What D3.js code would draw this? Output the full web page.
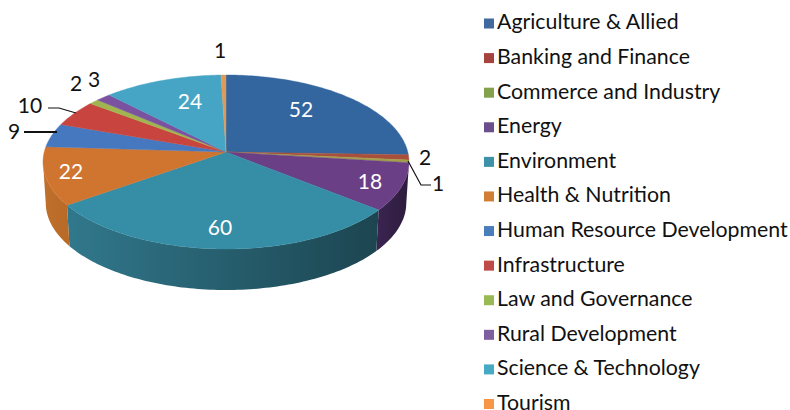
<!DOCTYPE html>
<html>
<head>
<meta charset="utf-8">
<script src="https://cdn.jsdelivr.net/npm/d3@7"></script>
<style>
  html, body { margin: 0; padding: 0; background: #fff; }
  text { font-family: Lato, "Open Sans", sans-serif; }
</style>
</head>
<body>
<svg id="chart" width="790" height="410"></svg>
<script>
var categories = ['Agriculture & Allied', 'Banking and Finance', 'Commerce and Industry', 'Energy',
  'Environment', 'Health & Nutrition', 'Human Resource Development', 'Infrastructure',
  'Law and Governance', 'Rural Development', 'Science & Technology', 'Tourism'];
var values = [52, 2, 1, 18, 60, 22, 9, 10, 2, 3, 24, 1];
var topColors = ['#33659e', '#a8503c', '#a3a04c', '#6a3f86', '#358da6', '#d0752f',
  '#4678bf', '#c8443f', '#a0b54f', '#7a529f', '#46a5c4', '#e09a58'];
var legendColors = ['#41689f', '#a5433f', '#83a04a', '#6a4f8c', '#3d91a8', '#d07d36',
  '#4a7ebb', '#be4b48', '#98b954', '#7d5fa0', '#46aac5', '#f79646'];
var wallFrom = ['#33659e', '#a8503c', '#a3a04c', '#2d1c3c', '#1c4550', '#b86a26',
  '#4678bf', '#c8443f', '#a0b54f', '#7a529f', '#46a5c4', '#e09a58'];
var wallTo = ['#33659e', '#a8503c', '#a3a04c', '#3a2450', '#31788c', '#c0702c',
  '#4678bf', '#c8443f', '#a0b54f', '#7a529f', '#46a5c4', '#e09a58'];

var svg = d3.select('#chart');
var defs = svg.append('defs');

// pie sits on a tilted plane, the apex is above the centre of the ellipse
var cx = 226, cy = 162, rx = 183, ry = 87, tilt = -0.115, depth = 41, bottomScale = 0.985;
var frontStart = 96.6 * Math.PI / 180, frontEnd = 263.4 * Math.PI / 180;

function project(angle, r) {
  var u = Math.sin(angle) * r, v = -Math.cos(angle) * r;
  var w = 1 + tilt * v;
  return [cx + rx * u * Math.sqrt(1 - tilt * tilt) / w, cy + ry * (v + tilt) / w];
}

function arcPoints(a0, a1, r) {
  var n = Math.max(2, Math.ceil((a1 - a0) / 0.02));
  return d3.range(n + 1).map(function (i) {
    return project(a0 + (a1 - a0) * i / n, r);
  });
}

var line = d3.line();
var slices = d3.pie().sort(null).value(function (d) { return d; })(values);

// ======================= side wall =======================
slices.forEach(function (s, i) {
  var a0 = Math.max(s.startAngle, frontStart), a1 = Math.min(s.endAngle, frontEnd);
  if (a1 <= a0) return;
  var upper = arcPoints(a0, a1, 1);
  var lower = upper.map(function (p) {
    return [cx + (p[0] - cx) * bottomScale, p[1] + depth];
  }).reverse();
  var id = 'wall' + i;
  var grad = defs.append('linearGradient').attr('id', id)
    .attr('gradientUnits', 'userSpaceOnUse')
    .attr('x1', upper[0][0]).attr('x2', upper[upper.length - 1][0])
    .attr('y1', 0).attr('y2', 0);
  grad.append('stop').attr('offset', 0).attr('stop-color', wallFrom[i]);
  grad.append('stop').attr('offset', 1).attr('stop-color', wallTo[i]);
  svg.append('path')
    .attr('d', line(upper.concat(lower)) + 'Z')
    .attr('fill', 'url(#' + id + ')');
});

// ======================= top face =======================
slices.forEach(function (s, i) {
  var pts = [project(0, 0)].concat(arcPoints(s.startAngle, s.endAngle, 1));
  svg.append('path')
    .attr('d', line(pts) + 'Z')
    .attr('fill', topColors[i])
    .attr('stroke', topColors[i])
    .attr('stroke-width', 0.4);
});

// ======================= data labels =======================
var labelText = ['52', '18', '60', '22', '24', '1', '2', '3', '10', '9', '2', '1'];
var labelX = [301, 370, 220, 71, 190, 220, 76, 94, 30, 14, 425, 438];
var labelY = [110, 182, 228, 172, 102, 51, 84, 80, 106, 132, 158, 184];
var labelFill = ['#fff', '#fff', '#fff', '#fff', '#fff', '#111', '#111', '#111', '#111', '#111', '#111', '#111'];

svg.selectAll('text.lab').data(labelText).enter().append('text')
  .attr('class', 'lab')
  .attr('x', function (d, i) { return labelX[i]; })
  .attr('y', function (d, i) { return labelY[i]; })
  .attr('dy', '0.35em')
  .attr('text-anchor', 'middle')
  .attr('font-size', 21)
  .attr('fill', function (d, i) { return labelFill[i]; })
  .text(function (d) { return d; });

// leader lines
var leaders = [
  { pts: [[24, 132], [57, 132]], w: 2 },
  { pts: [[48, 108], [59, 108], [76, 113]], w: 1.2 },
  { pts: [[408, 161], [421, 185], [431, 185]], w: 1.2 }
];
leaders.forEach(function (l) {
  svg.append('path').attr('d', line(l.pts)).attr('fill', 'none')
    .attr('stroke', '#111').attr('stroke-width', l.w);
});

// ======================= legend =======================
var legendY = d3.scalePoint().domain(categories).range([23.5, 404]);
var legend = svg.selectAll('g.leg').data(categories).enter().append('g')
  .attr('class', 'leg')
  .attr('transform', function (d) { return 'translate(484,' + legendY(d) + ')'; });
legend.append('rect')
  .attr('y', -5).attr('width', 10).attr('height', 10)
  .attr('fill', function (d, i) { return legendColors[i]; });
legend.append('text')
  .attr('x', 13).attr('y', -1.5).attr('dy', '0.35em')
  .attr('font-size', 21.3)
  .attr('fill', '#111')
  .text(function (d) { return d; });
</script>
</body>
</html>
